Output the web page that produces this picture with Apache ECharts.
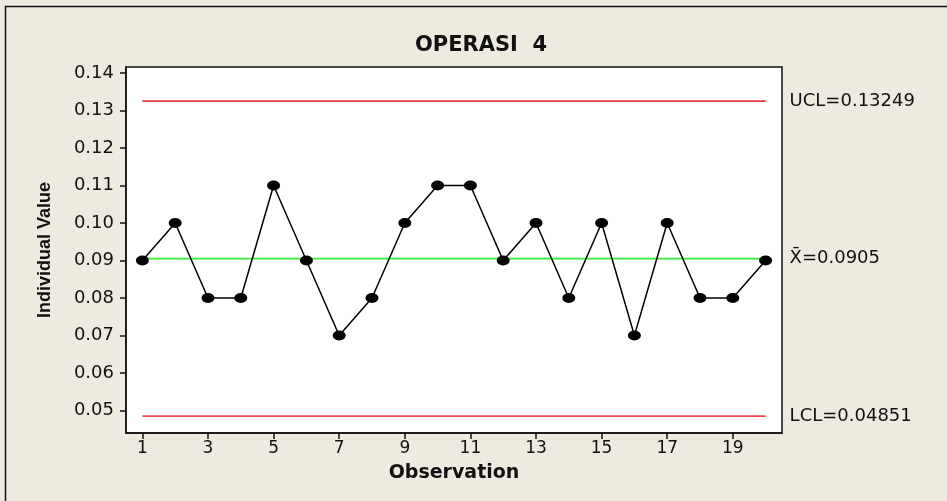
<!DOCTYPE html>
<html>
<head>
<meta charset="utf-8">
<script src="https://cdn.jsdelivr.net/npm/echarts@6/dist/echarts.min.js"></script>
<style>
html,body{margin:0;padding:0;background:#EEEAE0;}
#chart{width:947px;height:501px;}
</style>
</head>
<body>
<div id="chart"></div>
<script>
var observations = [1,2,3,4,5,6,7,8,9,10,11,12,13,14,15,16,17,18,19,20];
var values = [0.09,0.10,0.08,0.08,0.11,0.09,0.07,0.08,0.10,0.11,0.11,0.09,0.10,0.08,0.10,0.07,0.10,0.08,0.08,0.09];
var UCL = 0.13249;
var CL = 0.0905;
var LCL = 0.04851;
var xTicks = [1,3,5,7,9,11,13,15,17,19];
var yTicks = [0.05,0.06,0.07,0.08,0.09,0.10,0.11,0.12,0.13,0.14];
var yTickLabels = ['0.05','0.06','0.07','0.08','0.09','0.10','0.11','0.12','0.13','0.14'];
var titleText = 'OPERASI  4';
var xName = 'Observation';
var yName = 'Individual Value';

function limitSeries(v, color, label) {
  return {
    type: 'line',
    data: observations.map(function (o) { return [o, v]; }),
    symbol: 'none',
    silent: true,
    lineStyle: { color: color, width: 1.6 },
    endLabel: {
      show: true,
      formatter: label,
      distance: 24,
      color: '#111',
      fontSize: 18,
      fontFamily: 'DejaVu Sans'
    },
    z: 1
  };
}

var chart = echarts.init(document.getElementById('chart'), null, { renderer: 'canvas' });
chart.setOption({
  backgroundColor: '#EEEAE0',
  animation: false,
  title: {
    text: titleText,
    left: 476, top: 30, textAlign: 'center',
    textStyle: { fontFamily: 'DejaVu Sans', fontWeight: 'bold', fontSize: 21, color: '#111' }
  },
  graphic: [{
    type: 'rect', silent: true, z: -1,
    shape: { x: 5.5, y: 6.5, width: 960, height: 520 },
    style: { fill: 'none', stroke: '#111', lineWidth: 1.5 }
  }],
  grid: {
    left: 126, top: 67, right: 165, bottom: 68,
    show: true, backgroundColor: '#ffffff', borderColor: '#111', borderWidth: 1.5
  },
  xAxis: {
    type: 'value', min: 0.5, max: 20.5,
    name: xName, nameLocation: 'middle', nameGap: 31,
    nameTextStyle: { fontFamily: 'DejaVu Sans', fontWeight: 'bold', fontSize: 19, color: '#111' },
    axisLine: { show: true, onZero: false, lineStyle: { color: '#111', width: 1.5 } },
    axisTick: { show: true, length: 6, customValues: xTicks, lineStyle: { color: '#111', width: 1.5 } },
    axisLabel: { customValues: xTicks, margin: 7, fontFamily: 'DejaVu Sans', fontSize: 17, color: '#111' },
    splitLine: { show: false }
  },
  yAxis: {
    type: 'value', min: 0.044, max: 0.1416,
    name: yName, nameLocation: 'middle', nameGap: 72, nameRotate: 90,
    nameTextStyle: { fontFamily: 'Liberation Sans', fontWeight: 'bold', fontSize: 18, color: '#111' },
    axisLine: { show: true, onZero: false, lineStyle: { color: '#111', width: 1.5 } },
    axisTick: { show: true, length: 6, customValues: yTicks, lineStyle: { color: '#111', width: 1.5 } },
    axisLabel: {
      customValues: yTicks, margin: 12, fontFamily: 'DejaVu Sans', fontSize: 18, color: '#111',
      formatter: function (v) {
        var i = yTicks.findIndex(function (t) { return Math.abs(t - v) < 1e-9; });
        return i >= 0 ? yTickLabels[i] : '';
      }
    },
    splitLine: { show: false }
  },
  series: [
    limitSeries(UCL, '#E8393F', 'UCL=' + UCL),
    limitSeries(CL, '#33F033', 'X\u0304=' + CL),
    limitSeries(LCL, '#F04A50', 'LCL=' + LCL),
    {
      type: 'line',
      data: observations.map(function (o, i) { return [o, values[i]]; }),
      symbol: 'circle', symbolSize: [13, 10],
      itemStyle: { color: '#000' },
      lineStyle: { color: '#000', width: 1.5 },
      z: 3
    }
  ]
});
</script>
</body>
</html>
